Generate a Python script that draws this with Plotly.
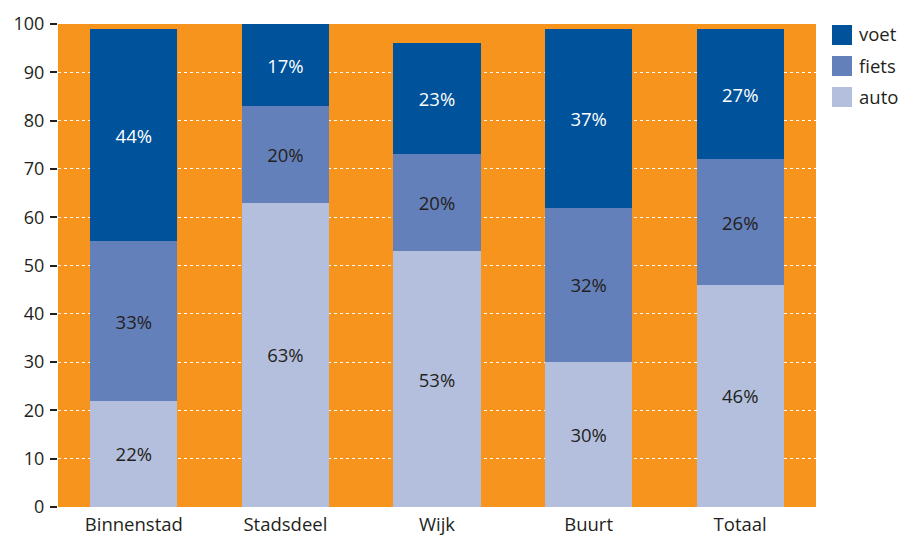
import plotly.graph_objects as go

# Modal split per area (percent of trips)
categories = ["Binnenstad", "Stadsdeel", "Wijk", "Buurt", "Totaal"]
auto = [22, 63, 53, 30, 46]
fiets = [33, 20, 20, 32, 26]
voet = [44, 17, 23, 37, 27]
y_ticks = [0, 10, 20, 30, 40, 50, 60, 70, 80, 90, 100]

FONT = "Open Sans"
TEXT_DARK = "#231F20"
ORANGE = "#F7941D"

series = [
    ("auto", auto, "#B4BFDE", TEXT_DARK),
    ("fiets", fiets, "#6380BA", TEXT_DARK),
    ("voet", voet, "#00529B", "white"),
]

fig = go.Figure()
for name, vals, color, txtcol in series:
    fig.add_trace(go.Bar(
        name=name, x=categories, y=vals,
        marker=dict(color=color, line=dict(width=0)),
        text=[f"{v}%" for v in vals],
        textposition="inside", insidetextanchor="middle", textangle=0,
        textfont=dict(family=FONT, size=18.5, color=txtcol),
        showlegend=False,
    ))

# Legend drawn as swatches + labels at the right edge
legend_items = [("voet", "#00529B"), ("fiets", "#6380BA"), ("auto", "#B4BFDE")]
shapes = []
annotations = []
for i, (name, color) in enumerate(legend_items):
    top = 25 + i * 31
    shapes.append(dict(type="rect", xref="paper", yref="paper",
                       x0=(832 - 58) / 758, x1=(852 - 58) / 758,
                       y0=1 - (top + 20 - 24) / 483, y1=1 - (top - 24) / 483,
                       fillcolor=color, line=dict(width=0)))
    annotations.append(dict(text=name, xref="paper", yref="paper",
                            x=(857 - 58) / 758, y=1 - (top + 9 - 24) / 483,
                            xanchor="left", yanchor="middle", showarrow=False,
                            font=dict(family=FONT, size=18.5, color=TEXT_DARK)))

fig.update_layout(
    width=904, height=538,
    margin=dict(l=58, r=88, t=24, b=31, autoexpand=False),
    paper_bgcolor="white", plot_bgcolor=ORANGE,
    barmode="stack", bargap=0.426,
    shapes=shapes, annotations=annotations,
    font=dict(family=FONT, size=18, color=TEXT_DARK),
)
fig.update_xaxes(showgrid=False, showline=False, ticks="", automargin=False,
                 tickfont=dict(size=18.5), ticklabelstandoff=4)
fig.update_yaxes(range=[0, 100], tickvals=y_ticks, showgrid=True,
                 gridcolor="white", griddash="dot", gridwidth=1,
                 zeroline=False, showline=False, automargin=False,
                 ticks="outside", ticklen=7, tickcolor=TEXT_DARK, tickwidth=1.5,
                 tickfont=dict(size=18), ticklabelstandoff=2)

fig.write_html("out.html")
